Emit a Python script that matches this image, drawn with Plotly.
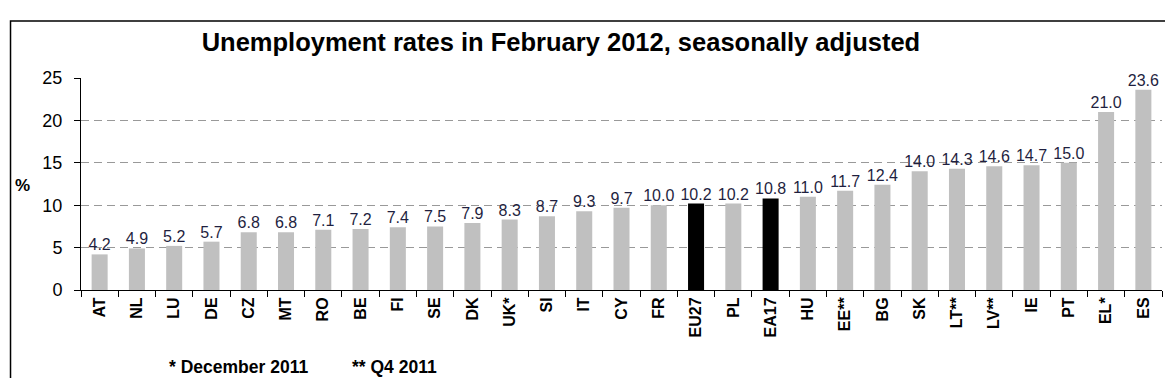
import plotly.graph_objects as go

categories = ["AT", "NL", "LU", "DE", "CZ", "MT", "RO", "BE", "FI", "SE", "DK", "UK*", "SI", "IT",
              "CY", "FR", "EU27", "PL", "EA17", "HU", "EE**", "BG", "SK", "LT**", "LV**", "IE",
              "PT", "EL*", "ES"]
values = [4.2, 4.9, 5.2, 5.7, 6.8, 6.8, 7.1, 7.2, 7.4, 7.5, 7.9, 8.3, 8.7, 9.3,
          9.7, 10.0, 10.2, 10.2, 10.8, 11.0, 11.7, 12.4, 14.0, 14.3, 14.6, 14.7,
          15.0, 21.0, 23.6]
highlight = ["EU27", "EA17"]
y_ticks = [0, 5, 10, 15, 20, 25]

colors = ["#000000" if c in highlight else "#c0c0c0" for c in categories]
labels = [f"{v:.1f}" for v in values]

FONT = "Liberation Sans, Arial, sans-serif"

fig = go.Figure()
fig.add_trace(go.Bar(
    x=categories, y=values, marker=dict(color=colors, line=dict(width=0)),
    width=0.43, hoverinfo="x+y",
))
fig.add_trace(go.Scatter(
    x=categories, y=values, mode="text", text=labels, textposition="top center",
    textfont=dict(family=FONT, size=16, color="#1f1f3f"), cliponaxis=False,
    marker=dict(size=14), hoverinfo="skip",
))

fig.update_layout(
    width=1173, height=378,
    margin=dict(l=73, r=19, t=70, b=96),
    paper_bgcolor="white", plot_bgcolor="white",
    showlegend=False,
    font=dict(family=FONT, color="black"),
    title=dict(text="<b>Unemployment rates in February 2012, seasonally adjusted</b>",
               x=0.4714, xanchor="center", y=0.910, yanchor="middle",
               font=dict(size=25.5, family=FONT, color="black")),
)
fig.update_yaxes(range=[0, 25], tickvals=y_ticks, showgrid=True, gridcolor="#999999",
                 griddash="8px,5px", gridwidth=1, showline=True, linecolor="black", linewidth=1,
                 ticks="outside", ticklen=6, tickcolor="black", ticklabelstandoff=8,
                 tickfont=dict(size=18, family=FONT), zeroline=False)
fig.update_xaxes(range=[-0.5, len(categories) - 0.5], showline=True, linecolor="black",
                 linewidth=1, ticks="outside",
                 tickson="boundaries", ticklen=6, tickcolor="black", tickangle=-90,
                 tickfont=dict(size=16, family=FONT), showgrid=False,
                 ticktext=[f"<b>{c}</b>" for c in categories], tickvals=categories)

# Outer frame
fig.add_shape(type="rect", xref="paper", yref="paper", x0=-0.0652, x1=1.0093,
              y0=-0.45, y1=1.269, line=dict(color="black", width=1.5), fillcolor="rgba(0,0,0,0)")

fig.add_annotation(text="<b>%</b>", xref="paper", yref="paper", x=-0.0537, y=0.495,
                   showarrow=False, font=dict(size=17, family=FONT), xanchor="center")
fig.add_annotation(text="<b>* December 2011</b>", xref="paper", yref="paper", x=0.0796, y=-0.363,
                   showarrow=False, font=dict(size=17.5, family=FONT), xanchor="left", yanchor="middle")
fig.add_annotation(text="<b>** Q4 2011</b>", xref="paper", yref="paper", x=0.249, y=-0.363,
                   showarrow=False, font=dict(size=17.5, family=FONT), xanchor="left", yanchor="middle")

fig.write_html("out.html")
